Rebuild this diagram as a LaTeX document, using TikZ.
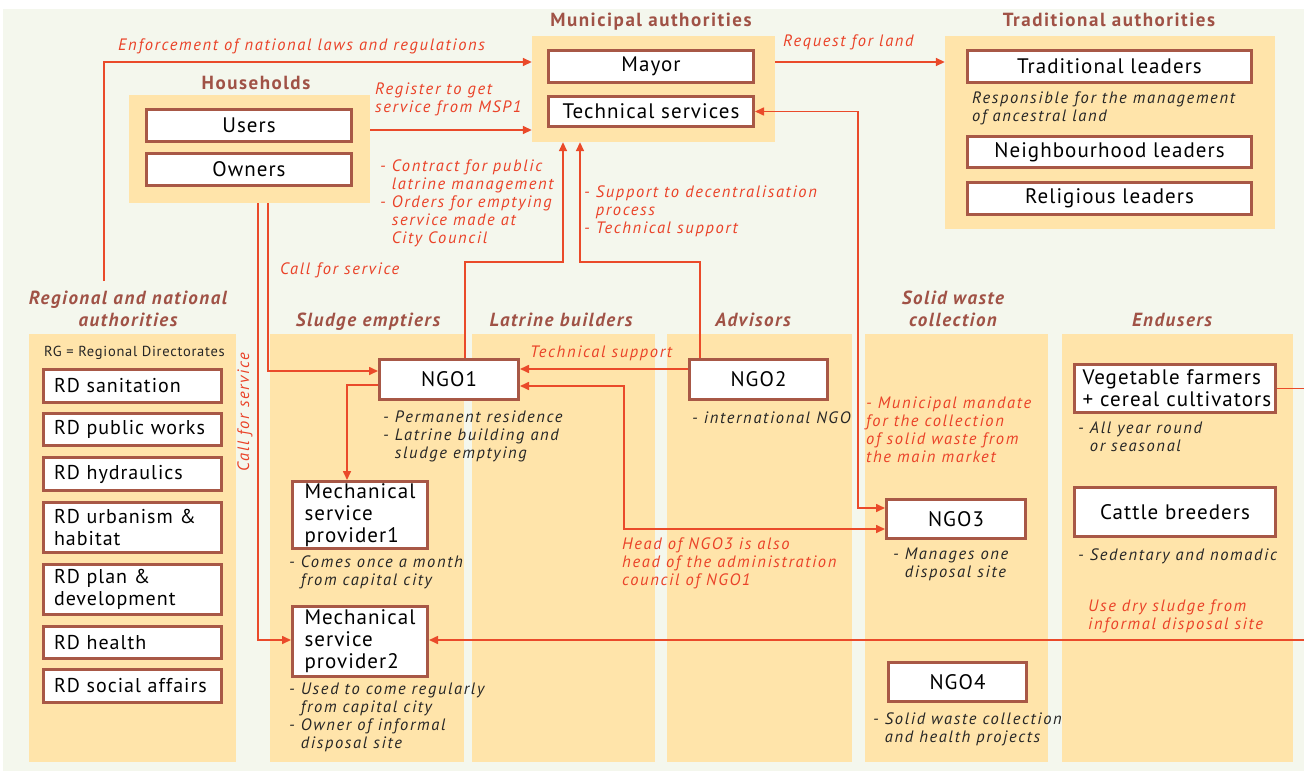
\documentclass[tikz,border=0pt]{standalone}
\usepackage{fontspec}
\setmainfont{PT Sans}
\newfontfamily\boxfont[LetterSpace=5]{PT Sans}
\newfontfamily\notefont[LetterSpace=10]{PT Sans}
\newfontfamily\headfont[LetterSpace=8]{PT Sans}
\usetikzlibrary{arrows.meta}
\definecolor{bgcol}{RGB}{244,247,237}
\definecolor{panelcol}{RGB}{255,228,170}
\definecolor{boxline}{RGB}{168,88,70}
\definecolor{linecol}{RGB}{234,74,42}
\definecolor{headcol}{RGB}{160,82,70}
\definecolor{notecol}{RGB}{234,66,40}
\begin{document}
\begin{tikzpicture}[x=1pt, y=-1pt,
    panel/.style={fill=panelcol, inner sep=0},
    box/.style={draw=boxline, line width=3pt, fill=white, inner sep=0,
      font=\boxfont\fontsize{21}{22}\selectfont, align=center},
    lbox/.style={box, align=left, inner xsep=12pt},
    rdbox/.style={lbox, inner xsep=11pt, text width=156pt, font=\boxfont\fontsize{20}{22}\selectfont},
    head/.style={text=headcol, font=\headfont\bfseries\fontsize{19}{22}\selectfont, align=center},
    subhead/.style={head, font=\headfont\bfseries\itshape\fontsize{19}{22}\selectfont},
    note/.style={text=notecol, font=\notefont\itshape\fontsize{16.5}{18}\selectfont,
      align=left, inner sep=0, anchor=west},
    info/.style={note, text=black!85},
    arr/.style={draw=linecol, line width=1.6pt, -{Triangle[length=9pt,width=8pt]}},
    arrboth/.style={arr, {Triangle[length=9pt,width=8pt]}-{Triangle[length=9pt,width=8pt]}}]
      \useasboundingbox (0,0) rectangle (1304,771);
      \fill[white] (0,0) rectangle (1304,771);
      \fill[bgcol] (3,9) rectangle (1304,771);

      % panels
      \node[panel, minimum width=243pt, minimum height=106pt] (municipal) at (653.5,89){};
      \node[panel, minimum width=330pt, minimum height=193pt] (traditional) at (1110,132.5){};
      \node[panel, minimum width=241pt, minimum height=108pt] (households) at (249.5,149){};
      \node[panel, minimum width=207pt, minimum height=428pt] (regional) at (132.5,548){};
      \node[panel, minimum width=194pt, minimum height=428pt] (sludge) at (367,548){};
      \node[panel, minimum width=183pt, minimum height=428pt] (latrine) at (563.5,548){};
      \node[panel, minimum width=185pt, minimum height=428pt] (advisors) at (759.5,548){};
      \node[panel, minimum width=183pt, minimum height=428pt] (solid) at (956.5,548){};
      \node[panel, minimum width=231pt, minimum height=428pt] (endusers) at (1177.5,548){};

      % headings
      \node[head] (munhead) at (651,21.5){Municipal authorities};
      \node[head] (tradhead) at (1109,20){Traditional authorities};
      \node[head] (hhhead) at (256,83){Households};
      \node[subhead] (reghead) at (128,309){Regional and national\\authorities};
      \node[subhead] (sludgehead) at (368,321.5){Sludge emptiers};
      \node[subhead] (latrinehead) at (561,320){Latrine builders};
      \node[subhead] (advhead) at (753,320){Advisors};
      \node[subhead] (solidhead) at (953,309){Solid waste\\collection};
      \node[subhead] (endhead) at (1172,320){Endusers};

      % boxes
      \node[box, minimum width=205pt, minimum height=32pt] (mayor) at (651,66.5){Mayor};
      \node[box, minimum width=205pt, minimum height=30pt] (techserv) at (651,111.5){Technical services};
      \node[box, minimum width=205pt, minimum height=32pt] (users) at (249,125.5){Users};
      \node[box, minimum width=205pt, minimum height=32pt] (owners) at (249,169.5){Owners};
      \node[box, minimum width=284pt, minimum height=32pt] (tradlead) at (1109.5,66.5){Traditional leaders};
      \node[box, minimum width=284pt, minimum height=31pt] (neighlead) at (1109.5,152){Neighbourhood leaders};
      \node[box, minimum width=284pt, minimum height=32pt] (religlead) at (1109.5,198.5){Religious leaders};
      \node[rdbox, minimum height=33pt] (rdsan) at (132,386){RD sanitation};
      \node[rdbox, minimum height=32pt] (rdpub) at (132,429.5){RD public works};
      \node[rdbox, minimum height=33pt] (rdhyd) at (132,474){RD hydraulics};
      \node[rdbox, minimum height=50pt] (rdurb) at (132,527.5){RD urbanism \&\\habitat};
      \node[rdbox, minimum height=50pt] (rdplan) at (132,589.5){RD plan \&\\development};
      \node[rdbox, minimum height=32pt] (rdhealth) at (132,642.5){RD health};
      \node[rdbox, minimum height=33pt] (rdsoc) at (132,686){RD social affairs};
      \node[box, minimum width=139pt, minimum height=40pt] (ngo1) at (449,379.5){NGO1};
      \node[box, minimum width=138pt, minimum height=40pt] (ngo2) at (758.5,379.5){NGO2};
      \node[lbox, text width=111pt, minimum height=67pt] (msp1) at (360,515){Mechanical\\service\\provider1};
      \node[lbox, text width=111pt, minimum height=70pt] (msp2) at (360,641.5){Mechanical\\service\\provider2};
      \node[box, minimum width=139pt, minimum height=39pt] (ngo3) at (956,519){NGO3};
      \node[box, minimum width=138pt, minimum height=39pt] (ngo4) at (957.5,682){NGO4};
      \node[lbox, inner xsep=8pt, text width=185pt, minimum height=48pt] (veg) at (1175,388.5){Vegetable farmers\\+ cereal cultivators};
      \node[box, minimum width=201pt, minimum height=49pt] (cattle) at (1175,512){Cattle breeders};

      % texts
      \node[note] (enftext) at (118,46){Enforcement of national laws and regulations};
      \node[note] (regtext) at (375,99){Register to get\\service from MSP1};
      \node[note] (reqtext) at (783,42){Request for land};
      \node[note] (contracttext) at (380,203){- Contract for public\\\hphantom{- }latrine management\\- Orders for emptying\\\hphantom{- }service made at\\\hphantom{- }City Council};
      \node[note] (supporttext) at (584,211){- Support to decentralisation\\\hphantom{- }process\\- Technical support};
      \node[note] (calltext) at (280,270){Call for service};
      \node[note, rotate=90, anchor=center] (callvert) at (245,412){Call for service};
      \node[info] (resptext) at (972,108){Responsible for the management\\of ancestral land};
      \node[info, font=\boxfont\fontsize{14.5}{15}\selectfont] (rgtext) at (44,353){RG = Regional Directorates};
      \node[note] (techtext) at (530,353){Technical support};
      \node[info] (ngo1text) at (383,436){- Permanent residence\\- Latrine building and\\\hphantom{- }sludge emptying};
      \node[info] (msp1text) at (289,572){- Comes once a month\\\hphantom{- }from capital city};
      \node[info] (msp2text) at (289,717){- Used to come regularly\\\hphantom{- }from capital city\\- Owner of informal\\\hphantom{- }disposal site};
      \node[note] (headtext) at (622,563){Head of NGO3 is also\\head of the administration\\council of NGO1};
      \node[info] (ngo2text) at (692,418){- international NGO};
      \node[note] (mandatetext) at (866,430){- Municipal mandate\\for the collection\\of solid waste from\\the main market};
      \node[info] (ngo3text) at (893,564){- Manages one\\\hphantom{- }disposal site};
      \node[info] (ngo4text) at (873,729){- Solid waste collection\\\hphantom{- }and health projects};
      \node[info] (vegtext) at (1078,437){- All year round\\\hphantom{- }or seasonal};
      \node[info] (cattletext) at (1078,556){- Sedentary and nomadic};
      \node[note] (drytext) at (1088,616){Use dry sludge from\\informal disposal site};

      % connectors
      \coordinate (enfstart) at (104,281);
      \draw[arr] (enfstart) |- (municipal.west |- 0,62);
      \draw[arr] (households.east |- 0,130) -- (municipal.west |- 0,130);
      \draw[arr] (municipal.east |- 0,62) -- (traditional.west |- 0,62);
      \draw[arr] (households.south -| 268,0) |- (ngo1.west |- 0,371);
      \draw[arr] (households.south -| 258,0) |- (msp2.west |- 0,640);
      \draw[arr] (ngo1.north -| 465,0) -- (465,262) -| (municipal.south -| 563,0);
      \draw[arr] (ngo2.north -| 700,0) -- (700,262) -| (municipal.south -| 580,0);
      \draw[arrboth] (techserv.east) -- (858,111.5) |- (ngo3.west |- 0,508);
      \draw[arr] (ngo2.west |- 0,369) -- (ngo1.east |- 0,369);
      \draw[arrboth] (ngo1.east |- 0,386) -- (624,386) |- (ngo3.west |- 0,529);
      \draw[arr] (ngo1.west |- 0,385) -| (msp1.north -| 347,0);
      \draw[arr] (veg.east) -- (1330,388.5) |- (msp2.east |- 0,640);

    \end{tikzpicture}
\end{document}
